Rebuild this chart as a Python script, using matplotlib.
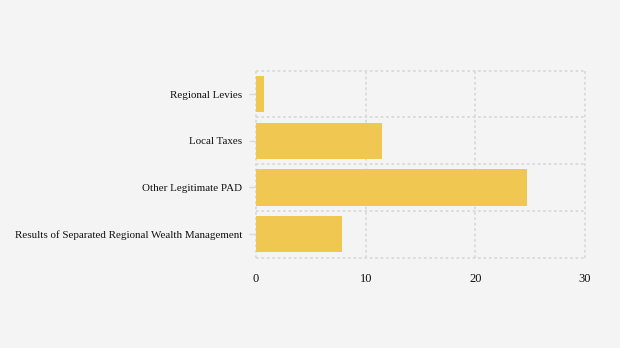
import matplotlib.pyplot as plt
import numpy as np

# PAD components
categories = ["Regional Levies", "Local Taxes", "Other Legitimate PAD",
              "Results of Separated Regional Wealth Management"]
values = [0.7, 11.5, 24.7, 7.8]
x_ticks = [0, 10, 20, 30]

plt.rcParams['font.family'] = ['Liberation Serif', 'DejaVu Serif']

bg = '#f4f4f4'
fig = plt.figure(figsize=(6.2, 3.48), dpi=100, facecolor=bg)
ax = fig.add_axes([0.413, 0.26, 0.5305, 0.537], facecolor=bg)

y = np.arange(len(categories))
ax.barh(y, values, height=0.78, color='#f0c750', zorder=2)

ax.set_xlim(0, 30)
ax.set_ylim(len(categories) - 0.5, -0.5)
ax.set_xticks(x_ticks)
ax.set_yticks(y)
ax.set_yticklabels(categories)
ax.set_yticks(np.arange(-0.5, len(categories)), minor=True)

# dashed grid: vertical at x ticks, horizontal between categories
grid_style = dict(color='#dadada', linestyle=(0, (1.5, 1.5)), linewidth=1.3, zorder=0)
ax.grid(axis='x', which='major', **grid_style)
ax.grid(axis='y', which='minor', **grid_style)
lines = ax.xaxis.get_gridlines() + [t.gridline for t in ax.yaxis.get_minor_ticks()]
for gl in lines:
    gl.set_clip_on(False)

for s in ax.spines.values():
    s.set_visible(False)

ax.tick_params(axis='x', length=0, pad=11, labelsize=9, labelcolor='#111111')
ax.tick_params(axis='y', which='major', length=5, width=1, color='#dadada', pad=5,
               labelsize=7.95, labelcolor='#111111')
ax.tick_params(axis='y', which='minor', length=0)

fig.savefig('out.png', dpi=100, facecolor=bg)
